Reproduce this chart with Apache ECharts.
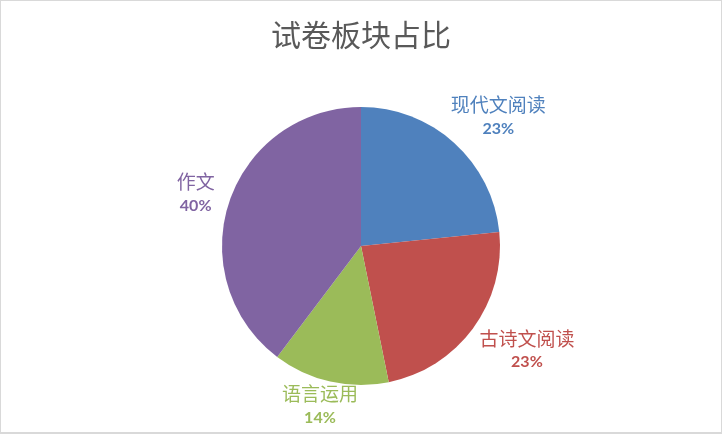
<!DOCTYPE html>
<html>
<head>
<meta charset="utf-8">
<script src="https://cdn.jsdelivr.net/npm/echarts@6/dist/echarts.min.js"></script>
<style>
  html, body { margin: 0; padding: 0; background: #fff; }
  #chart { width: 722px; height: 434px; box-sizing: border-box; border: 1px solid #d9d9d9; border-bottom-width: 2px; }
</style>
</head>
<body>
<div id="chart"></div>
<script>
// Data
const categories = ['现代文阅读', '古诗文阅读', '语言运用', '作文'];
const values = [23.4, 23.4, 13.5, 39.7];
const titleText = '试卷板块占比';

// Styles (kept separate from data)
const colors = ['#4F81BD', '#C0504D', '#9BBB59', '#8064A2'];
const lineLen = [36, 36, 24, 28];
const lineLen2 = [20, 25, 5, 7];

const chart = echarts.init(document.getElementById('chart'), null, { renderer: 'canvas' });

const seriesData = categories.map((name, i) => ({
  name: name,
  value: values[i],
  itemStyle: { color: colors[i] },
  label: { color: colors[i] },
  labelLine: { length: lineLen[i], length2: lineLen2[i] }
}));

chart.setOption({
  animation: false,
  backgroundColor: '#fff',
  title: {
    text: titleText,
    left: 'center',
    top: 14,
    textStyle: {
      fontSize: 30,
      fontWeight: 'normal',
      color: '#595959',
      fontFamily: 'Noto Sans CJK SC'
    }
  },
  series: [{
    type: 'pie',
    center: [360, 245],
    radius: 139,
    startAngle: 90,
    clockwise: true,
    avoidLabelOverlap: false,
    data: seriesData,
    label: {
      show: true,
      position: 'outside',
      distanceToLabelLine: 0,
      formatter: function (p) {
        return '{n|' + p.name + '}\n{p|' + Math.round(p.percent) + '%}';
      },
      rich: {
        n: { fontSize: 19, lineHeight: 25, fontFamily: 'Noto Sans CJK SC', align: 'center' },
        p: { fontSize: 16, lineHeight: 22, fontWeight: 'bold', fontFamily: 'Lato', align: 'center' }
      }
    },
    labelLine: { show: false },
    labelLayout: function () {
      return { align: 'center', verticalAlign: 'middle' };
    },
    emphasis: { disabled: true }
  }]
});
</script>
</body>
</html>
